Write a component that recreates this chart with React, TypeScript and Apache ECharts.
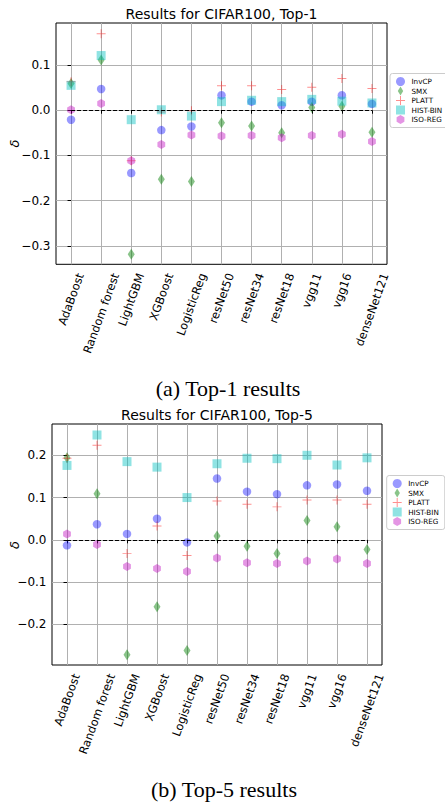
import React, { useEffect, useRef } from 'react';
import * as echarts from 'echarts';

const categories = ['AdaBoost', 'Random forest', 'LightGBM', 'XGBoost', 'LogisticReg', 'resNet50', 'resNet34', 'resNet18', 'vgg11', 'vgg16', 'denseNet121'];
const methods = ['InvCP', 'SMX', 'PLATT', 'HIST-BIN', 'ISO-REG'];

// Top-1 results
const top1InvCP = [-0.021, 0.047, -0.139, -0.044, -0.036, 0.033, 0.019, 0.011, 0.019, 0.033, 0.014];
const top1SMX = [0.059, 0.111, -0.319, -0.153, -0.158, -0.028, -0.035, -0.050, 0.006, 0.009, -0.049];
const top1PLATT = [0.063, 0.169, -0.112, -0.004, -0.001, 0.054, 0.054, 0.046, 0.051, 0.070, 0.048];
const top1HIST = [0.055, 0.121, -0.021, 0.001, -0.013, 0.019, 0.022, 0.019, 0.024, 0.020, 0.016];
const top1ISO = [0.001, 0.015, -0.112, -0.076, -0.055, -0.057, -0.056, -0.061, -0.056, -0.053, -0.069];

// Top-5 results
const top5InvCP = [-0.013, 0.037, 0.014, 0.050, -0.006, 0.145, 0.114, 0.108, 0.129, 0.131, 0.116];
const top5SMX = [0.194, 0.109, -0.272, -0.158, -0.262, 0.009, -0.015, -0.032, 0.046, 0.031, -0.023];
const top5PLATT = [0.193, 0.224, -0.032, 0.033, -0.037, 0.092, 0.084, 0.078, 0.094, 0.094, 0.084];
const top5HIST = [0.176, 0.248, 0.185, 0.172, 0.100, 0.180, 0.193, 0.192, 0.200, 0.177, 0.194];
const top5ISO = [0.014, -0.011, -0.063, -0.068, -0.075, -0.043, -0.054, -0.056, -0.050, -0.045, -0.056];

const top1Ticks = [-0.3, -0.2, -0.1, 0, 0.1];
const top5Ticks = [-0.2, -0.1, 0, 0.1, 0.2];
const top1Range = [-0.341, 0.193];
const top5Range = [-0.296, 0.274];

const titles = ['Results for CIFAR100, Top-1', 'Results for CIFAR100, Top-5'];
const captions = ['(a) Top-1 results', '(b) Top-5 results'];
const yName = 'δ';

const FONT = '"DejaVu Sans", sans-serif';
const PLUS = 'path://M4.45,0H5.55V10H4.45Z M0,4.45H10V5.55H0Z';
const HEX = 'path://M5,0L9.33,2.5L9.33,7.5L5,10L0.67,7.5L0.67,2.5Z';
const DIAM = 'path://M3,0L6,5L3,10L0,5Z';
const SQR = 'path://M0,0H10V10H0Z';

const COLORS = {
  InvCP: 'rgba(0,0,255,0.5)',
  SMX: 'rgba(0,128,0,0.58)',
  PLATT: 'rgba(255,0,0,0.55)',
  'HIST-BIN': 'rgba(0,191,191,0.55)',
  'ISO-REG': 'rgba(191,0,191,0.52)',
};

function measure(s: string, font: string): number {
  const c = document.createElement('canvas').getContext('2d');
  if (!c) return s.length * 7;
  c.font = font;
  return c.measureText(s).width;
}

export default function App() {
  const ref = useRef<HTMLDivElement>(null);
  useEffect(() => {
    if (!ref.current) return;
    const chart = echarts.init(ref.current, undefined, { renderer: 'svg' });

    const xFs = 11.5;
    const lh = 13;
    const rot = 70;
    const cr = Math.cos((rot * Math.PI) / 180);
    const sr = Math.sin((rot * Math.PI) / 180);
    const gap = 7;
    const margin = 3.2;
    const dy = gap + (lh * cr) / 2 - margin;
    const rich: Record<string, any> = {};
    categories.forEach((c, i) => {
      const L = measure(c, `${xFs}px "DejaVu Sans"`);
      const dx = (L * cr) / 2;
      const right = Math.max(0, dy * sr - dx * cr);
      const top = 2 * (dx * sr + dy * cr);
      rich['l' + i] = { fontSize: xFs, fontFamily: FONT, color: '#000', lineHeight: lh, padding: [top, right, 0, 0] };
    });
    const idx = categories.map((_, i) => i);

    const grids = [
      { left: 56, top: 23, width: 331, height: 241.3 },
      { left: 52, top: 424, width: 330, height: 241 },
    ];
    const ranges = [top1Range, top5Range];
    const ticks = [top1Ticks, top5Ticks];
    const data = [
      [top1InvCP, top1SMX, top1PLATT, top1HIST, top1ISO],
      [top5InvCP, top5SMX, top5PLATT, top5HIST, top5ISO],
    ];
    const symbols = ['circle', 'diamond', PLUS, 'rect', HEX];
    const sizes: any[] = [8.5, [7, 11], 9, 9, 9];

    const series: any[] = [];
    [0, 1].forEach((k) => {
      methods.forEach((m, j) => {
        const s: any = {
          type: 'scatter',
          name: m,
          xAxisIndex: k,
          yAxisIndex: k,
          data: data[k][j].map((v, i) => [i, v]),
          symbol: symbols[j],
          symbolSize: sizes[j],
          symbolKeepAspect: j === 4,
          itemStyle: { color: (COLORS as any)[m] },
          z: 3,
          emphasis: { disabled: true },
        };
        if (j === 0) {
          s.markLine = {
            silent: true,
            symbol: ['none', 'none'],
            label: { show: false },
            z: 6,
            lineStyle: { type: [4, 2], color: '#000', width: 1.2 },
            data: [[{ coord: [0, 0] }, { coord: [categories.length - 1, 0] }]],
          };
        }
        series.push(s);
      });
    });

    const legendItems = [
      { name: 'InvCP', icon: 'circle' },
      { name: 'SMX', icon: DIAM },
      { name: 'PLATT', icon: PLUS },
      { name: 'HIST-BIN', icon: SQR },
      { name: 'ISO-REG', icon: HEX },
    ];
    const legendBase = {
      orient: 'vertical',
      itemWidth: 12,
      itemHeight: 9,
      itemGap: 0.5,
      padding: [3.5, 6, 3.5, 6],
      textStyle: { fontSize: 7.2, color: '#000', fontFamily: FONT, lineHeight: 9 },
      borderColor: '#cccccc',
      borderWidth: 1,
      borderRadius: 2.5,
      backgroundColor: 'rgba(255,255,255,0.8)',
      data: legendItems,
      selectedMode: false,
    };

    const valueX = [0, 1].map((k) => ({
      type: 'value',
      gridIndex: k,
      position: 'bottom',
      min: -0.5,
      max: categories.length - 0.5,
      axisLine: { show: false },
      axisTick: { show: true, length: 3.5, lineStyle: { color: '#000', width: 1 }, customValues: idx },
      axisLabel: { show: false },
      splitLine: { show: true, lineStyle: { color: '#b0b0b0', width: 1 } },
    }));
    const catX = [0, 1].map((k) => ({
      type: 'category',
      gridIndex: k,
      position: 'bottom',
      offset: 0,
      data: categories,
      boundaryGap: true,
      axisLine: { show: false },
      axisTick: { show: false },
      splitLine: { show: false },
      axisLabel: {
        interval: 0,
        rotate: rot,
        margin: margin,
        formatter: (v: string, i: number) => `{l${i}|${v}}`,
        rich,
      },
    }));

    const option: any = {
      animation: false,
      textStyle: { fontFamily: FONT },
      grid: grids.map((g) => ({
        ...g,
        show: true,
        borderColor: '#000',
        borderWidth: 1,
        backgroundColor: 'transparent',
        containLabel: false,
        outerBoundsMode: 'none',
      })),
      xAxis: [...valueX, ...catX],
      yAxis: [0, 1].map((k) => ({
        type: 'value',
        gridIndex: k,
        min: ranges[k][0],
        max: ranges[k][1],
        axisLine: { show: false },
        axisTick: { show: true, length: 3.5, lineStyle: { color: '#000', width: 1 }, customValues: ticks[k] },
        axisLabel: {
          customValues: ticks[k],
          fontSize: 12,
          color: '#000',
          fontFamily: FONT,
          margin: 5.5,
          showMinLabel: true,
          showMaxLabel: true,
          formatter: (v: number) => (v < -1e-9 ? '\u2212' : '') + Math.abs(v).toFixed(1),
        },
        splitLine: { show: true, lineStyle: { color: '#b0b0b0', width: 1 } },
      })),
      legend: [
        { ...legendBase, left: 390, top: 73.5 },
        { ...legendBase, left: 386.7, top: 475.5 },
      ],
      graphic: [
        { type: 'text', x: 221.5, y: 14, style: { text: titles[0], fontSize: 14, fontFamily: FONT, fill: '#000', textAlign: 'center', textVerticalAlign: 'middle' } },
        { type: 'text', x: 217, y: 415, style: { text: titles[1], fontSize: 14, fontFamily: FONT, fill: '#000', textAlign: 'center', textVerticalAlign: 'middle' } },
        { type: 'text', x: 14, y: 143.5, rotation: Math.PI / 2, style: { text: yName, fontSize: 13, fontStyle: 'italic', fontFamily: FONT, fill: '#000', textAlign: 'center', textVerticalAlign: 'middle' } },
        { type: 'text', x: 14, y: 545, rotation: Math.PI / 2, style: { text: yName, fontSize: 13, fontStyle: 'italic', fontFamily: FONT, fill: '#000', textAlign: 'center', textVerticalAlign: 'middle' } },
        { type: 'text', x: 228, y: 388, style: { text: captions[0], fontSize: 22, fontFamily: '"Liberation Serif", serif', fill: '#000', textAlign: 'center', textVerticalAlign: 'middle' } },
        { type: 'text', x: 224, y: 789, style: { text: captions[1], fontSize: 22, fontFamily: '"Liberation Serif", serif', fill: '#000', textAlign: 'center', textVerticalAlign: 'middle' } },
      ],
      series,
    };
    chart.setOption(option);
    return () => chart.dispose();
  }, []);
  return <div ref={ref} style={{ position: 'absolute', left: 0, top: 0, width: 445, height: 804, background: '#fff' }} />;
}
